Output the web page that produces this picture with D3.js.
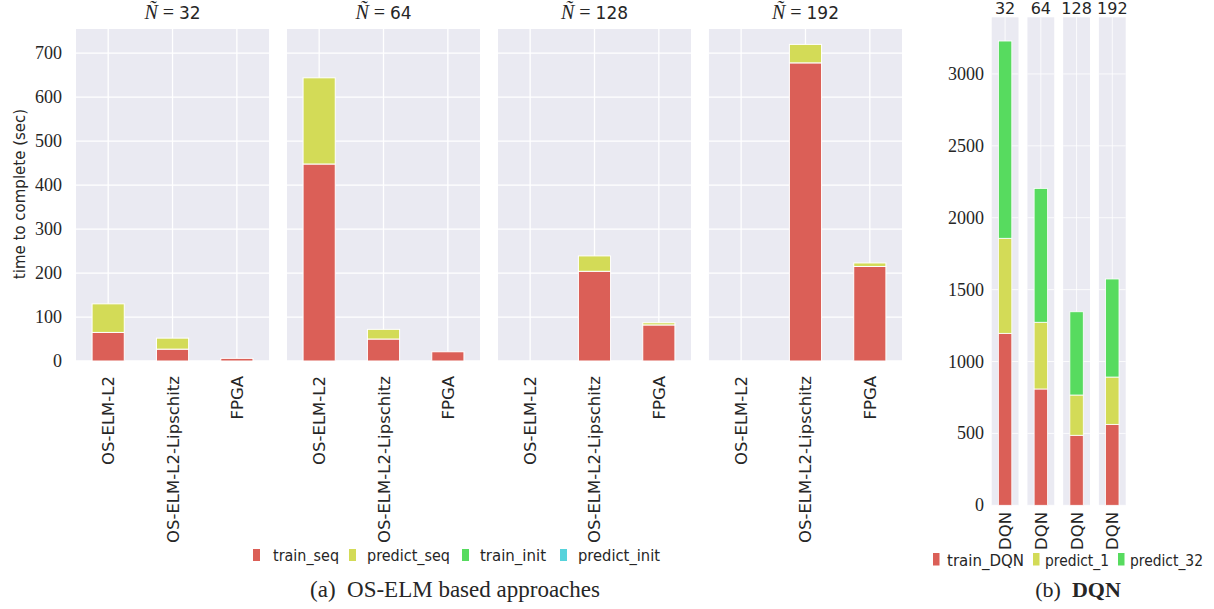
<!DOCTYPE html>
<html>
<head>
<meta charset="utf-8">
<script src="https://cdn.jsdelivr.net/npm/d3@7"></script>
<style>
  body { margin: 0; background: #fff; }
  .sans { font-family: "DejaVu Sans", sans-serif; fill: #262626; }
  .serif { font-family: "Liberation Serif", serif; fill: #262626; }
</style>
</head>
<body>
<svg id="chart" width="1214" height="609"></svg>
<script>
// OS-ELM panels, one entry per N~, values per category
var categories = ["OS-ELM-L2", "OS-ELM-L2-Lipschitz", "FPGA"];
var nTilde = [32, 64, 128, 192];
var trainSeq    = [[65, 27, 6], [448, 50, 21], [0, 204, 82], [0, 678, 215]];
var predictSeq  = [[65, 25, 0], [196, 22, 0], [0, 35, 5], [0, 42, 8]];
var trainInit   = [[0, 0, 0], [0, 0, 0], [0, 0, 0], [0, 0, 0]];
var predictInit = [[0, 0, 0], [0, 0, 0], [0, 0, 0], [0, 0, 0]];
var elmSeries = ["train_seq", "predict_seq", "train_init", "predict_init"];
var elmTicks = [0, 100, 200, 300, 400, 500, 600, 700];

// DQN panels
var dqnN = [32, 64, 128, 192];
var trainDQN  = [1196, 809, 487, 563];
var predict1  = [661, 464, 280, 329];
var predict32 = [1372, 931, 579, 682];
var dqnSeries = ["train_DQN", "predict_1", "predict_32"];
var dqnTicks = [0, 500, 1000, 1500, 2000, 2500, 3000];

var colors = ["#db5f57", "#d3db57", "#57db5f", "#57d3db"];
var bg = "#eaeaf2";

var svg = d3.select("#chart");

// ---------- (a) OS-ELM ----------
var y = d3.scaleLinear().domain([0, 755]).range([361, 29]);
var panelX = d3.scaleBand().domain(nTilde).range([76, 902]).paddingInner(0.085);

nTilde.forEach(function(n, p) {
    var x0 = panelX(n), w = panelX.bandwidth();
    var x = d3.scaleBand().domain(categories).range([x0, x0 + w]);
    var g = svg.append("g");
    g.append("rect").attr("x", x0).attr("y", y.range()[1])
        .attr("width", w).attr("height", y.range()[0] - y.range()[1]).attr("fill", bg);
    g.selectAll(".hg").data(elmTicks).enter().append("line")
        .attr("x1", x0).attr("x2", x0 + w)
        .attr("y1", function(d) { return y(d); }).attr("y2", function(d) { return y(d); })
        .attr("stroke", "#fff").attr("stroke-width", 1.3);
    g.selectAll(".vg").data(categories).enter().append("line")
        .attr("x1", function(d) { return x(d) + x.bandwidth() / 2; })
        .attr("x2", function(d) { return x(d) + x.bandwidth() / 2; })
        .attr("y1", y.range()[1]).attr("y2", y.range()[0])
        .attr("stroke", "#fff").attr("stroke-width", 1.3);

    var rows = categories.map(function(c, i) {
        return {cat: c, train_seq: trainSeq[p][i], predict_seq: predictSeq[p][i],
                train_init: trainInit[p][i], predict_init: predictInit[p][i]};
    });
    var stacked = d3.stack().keys(elmSeries)(rows);
    stacked.forEach(function(layer, k) {
        g.selectAll(".b" + k).data(layer.filter(function(d) { return d[1] - d[0] > 0; }))
            .enter().append("rect")
            .attr("x", function(d) { return x(d.data.cat) + x.bandwidth() * 0.25; })
            .attr("width", x.bandwidth() * 0.5)
            .attr("y", function(d) { return y(d[1]); })
            .attr("height", function(d) { return y(d[0]) - y(d[1]); })
            .attr("fill", colors[k]).attr("stroke", "#fff").attr("stroke-width", 1);
    });

    // category labels
    g.selectAll(".xl").data(categories).enter().append("text")
        .attr("class", "sans").attr("font-size", 16.5)
        .attr("text-anchor", "end")
        .attr("transform", function(d) {
            return "translate(" + (x(d) + x.bandwidth() / 2 + 6) + ",376) rotate(-90)";
        })
        .text(function(d) { return d; });

    // title  N~ = n
    var t = g.append("text").attr("x", x0 + w / 2).attr("y", 19).attr("text-anchor", "middle")
        .attr("font-size", 20);
    t.append("tspan").attr("class", "serif").attr("font-style", "italic").text("N\u0303");
    t.append("tspan").attr("class", "serif").text(" = ");
    t.append("tspan").attr("class", "sans").attr("font-size", 17).text(n);
});

svg.selectAll(".yl").data(elmTicks).enter().append("text")
    .attr("class", "serif").attr("font-size", 18)
    .attr("x", 62).attr("y", function(d) { return y(d) + 6; })
    .attr("text-anchor", "end").text(function(d) { return d; });

svg.append("text").attr("class", "sans").attr("font-size", 15)
    .attr("text-anchor", "middle")
    .attr("transform", "translate(25,194) rotate(-90)")
    .text("time to complete (sec)");

// legend (a)
var legA = svg.append("g");
var legAx = [253, 349, 462, 560];
var legAw = [66, 83, 66, 82];
elmSeries.forEach(function(s, k) {
    legA.append("rect").attr("x", legAx[k]).attr("y", 549).attr("width", 7).attr("height", 12)
        .attr("fill", colors[k]);
    legA.append("text").attr("class", "sans").attr("font-size", 15)
        .attr("x", legAx[k] + (k === 0 ? 20 : 18)).attr("y", 561)
        .attr("textLength", legAw[k]).attr("lengthAdjust", "spacingAndGlyphs").text(s);
});
svg.append("text").attr("class", "serif").attr("font-size", 23)
    .attr("x", 455).attr("y", 597).attr("text-anchor", "middle")
    .text("(a)\u2002OS-ELM based approaches");

// ---------- (b) DQN ----------
var yd = d3.scaleLinear().domain([0, 3394]).range([505.3, 17.3]);
var dqX = d3.scaleBand().domain(dqnN).range([991.7, 1125.7]).paddingInner(0.25);

dqnN.forEach(function(n, p) {
    var x0 = dqX(n), w = dqX.bandwidth();
    var g = svg.append("g");
    g.append("rect").attr("x", x0).attr("y", yd.range()[1])
        .attr("width", w).attr("height", yd.range()[0] - yd.range()[1]).attr("fill", bg);
    g.selectAll(".hg").data(dqnTicks).enter().append("line")
        .attr("x1", x0).attr("x2", x0 + w)
        .attr("y1", function(d) { return yd(d); }).attr("y2", function(d) { return yd(d); })
        .attr("stroke", "#fff").attr("stroke-width", 0.8);
    g.append("line").attr("x1", x0 + w / 2).attr("x2", x0 + w / 2)
        .attr("y1", yd.range()[1]).attr("y2", yd.range()[0])
        .attr("stroke", "#fff").attr("stroke-width", 0.8);

    var row = [{train_DQN: trainDQN[p], predict_1: predict1[p], predict_32: predict32[p]}];
    var stacked = d3.stack().keys(dqnSeries)(row);
    stacked.forEach(function(layer, k) {
        g.append("rect")
            .attr("x", x0 + w * 0.25).attr("width", w * 0.5)
            .attr("y", yd(layer[0][1]))
            .attr("height", yd(layer[0][0]) - yd(layer[0][1]))
            .attr("fill", colors[k]).attr("stroke", "#fff").attr("stroke-width", 0.8);
    });

    g.append("text").attr("class", "sans").attr("font-size", 16.5)
        .attr("text-anchor", "end")
        .attr("transform", "translate(" + (x0 + w / 2 + 6) + ",512) rotate(-90)")
        .text("DQN");
    g.append("text").attr("class", "sans").attr("font-size", 16)
        .attr("x", x0 + w / 2).attr("y", 14).attr("text-anchor", "middle").text(n);
});

svg.selectAll(".ydl").data(dqnTicks).enter().append("text")
    .attr("class", "serif").attr("font-size", 18)
    .attr("x", 984).attr("y", function(d) { return yd(d) + 6; })
    .attr("text-anchor", "end").text(function(d) { return d; });

var legB = svg.append("g");
var legBx = [933, 1033, 1118];
var legBw = [77, 64, 73];
dqnSeries.forEach(function(s, k) {
    legB.append("rect").attr("x", legBx[k]).attr("y", 553).attr("width", 6.5).attr("height", 12.5)
        .attr("fill", colors[k]);
    legB.append("text").attr("class", "sans").attr("font-size", 15)
        .attr("x", legBx[k] + (k === 0 ? 14 : 12)).attr("y", 565.5)
        .attr("textLength", legBw[k]).attr("lengthAdjust", "spacingAndGlyphs").text(s);
});
var capB = svg.append("text").attr("class", "serif").attr("font-size", 22)
    .attr("x", 1078).attr("y", 597).attr("text-anchor", "middle");
capB.append("tspan").text("(b)\u2002");
capB.append("tspan").attr("font-weight", "bold").text("DQN");
</script>
</body>
</html>
